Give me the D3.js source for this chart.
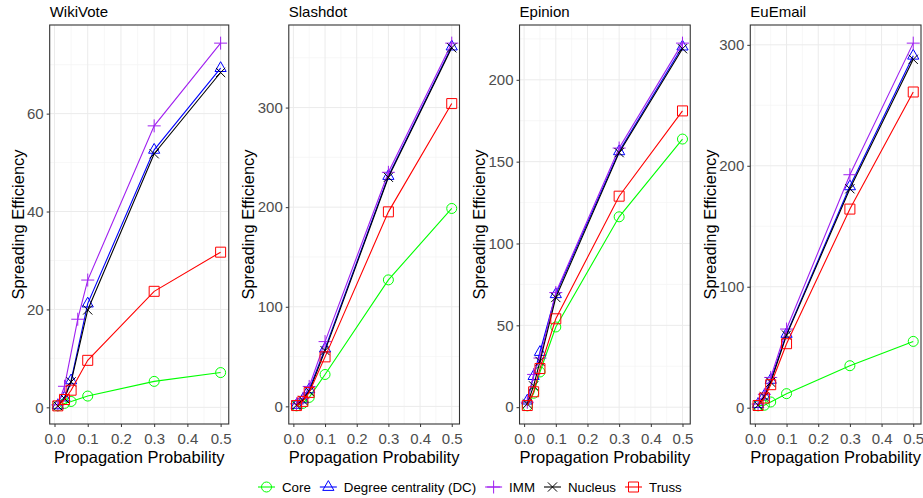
<!DOCTYPE html>
<html lang="en">
<head>
<meta charset="UTF-8">
<title>Spreading Efficiency</title>
<script src="https://d3js.org/d3.v7.min.js"></script>
<style>
    body { margin: 0; background: #fff; }
    svg { font-family: "Liberation Sans", Arial, sans-serif; display: block; }
    .grid-major { stroke: #ebebeb; stroke-width: 1; }
    .grid-minor { stroke: #f3f3f3; stroke-width: 0.7; }
    .tick-label { fill: #4d4d4d; font-size: 15px; }
</style>
</head>
<body>
<svg id="chart" width="923" height="498"></svg>
<script>
// data
const datasets = ["WikiVote", "Slashdot", "Epinion", "EuEmail"];
const methods = ["Core", "Degree centrality (DC)", "IMM", "Nucleus", "Truss"];
const colors = ["#00ff00", "#0000ff", "#a020f0", "#000000", "#ff0000"];
const shapes = ["circle", "triangle", "plus", "cross", "square"];

const probs = [0.01, 0.03, 0.05, 0.1, 0.3, 0.5];
const wikiImmProbs = [0.01, 0.03, 0.07, 0.1, 0.3, 0.5];
const xTicks = [0.0, 0.1, 0.2, 0.3, 0.4, 0.5];

const wikiCore    = [0.3, 0.8, 1.2, 2.3, 5.3, 7.1];
const wikiDC      = [0.4, 2.0, 5.5, 21.2, 52.6, 69.3];
const wikiIMM     = [0.5, 4.3, 18.0, 26.0, 57.5, 74.4];
const wikiNucleus = [0.3, 1.8, 5.2, 19.9, 51.8, 68.4];
const wikiTruss   = [0.3, 1.6, 3.5, 9.6, 23.7, 31.7];
const wikiTicks   = [0, 20, 40, 60];

const slashCore    = [0.5, 3, 9, 32, 127, 198.7];
const slashDC      = [1.5, 7, 17, 58, 231.3, 361.3];
const slashIMM     = [2.5, 8, 20, 65, 235, 364.7];
const slashNucleus = [1.2, 6, 15, 56, 230, 360];
const slashTruss   = [0.8, 5, 14, 49.7, 195.3, 304];
const slashTicks   = [0, 100, 200, 300];

const epiCore    = [0.8, 8.5, 21.5, 49, 116.3, 163.8];
const epiDC      = [4, 19, 33.7, 69, 156.3, 220.3];
const epiIMM     = [3, 20, 30, 70, 158.3, 222.4];
const epiNucleus = [2, 13, 28, 67, 155.5, 219];
const epiTruss   = [1, 9.4, 23.6, 54, 128.9, 181];
const epiTicks   = [0, 50, 100, 150, 200];

const euCore    = [1.5, 2, 4.7, 11.6, 34.7, 54.8];
const euDC      = [3, 10, 23, 61, 183, 291];
const euIMM     = [3, 11, 25, 65, 192.6, 301.4];
const euNucleus = [2, 9, 21, 60, 181, 288];
const euTruss   = [1.8, 8, 19, 52.9, 164.2, 261];
const euTicks   = [0, 100, 200, 300];

const panelValues = [
    [wikiCore, wikiDC, wikiIMM, wikiNucleus, wikiTruss],
    [slashCore, slashDC, slashIMM, slashNucleus, slashTruss],
    [epiCore, epiDC, epiIMM, epiNucleus, epiTruss],
    [euCore, euDC, euIMM, euNucleus, euTruss]
];
const panelProbs = [
    [probs, probs, wikiImmProbs, probs, probs],
    [probs, probs, probs, probs, probs],
    [probs, probs, probs, probs, probs],
    [probs, probs, probs, probs, probs]
];
const panelTicks = [wikiTicks, slashTicks, epiTicks, euTicks];

const W = 923, H = 498;
const panelW = W / 4;
const plotTop = 25, plotBottom = 424;

const svg = d3.select("#chart");

// marker paths
function markerPath(shape) {
    if (shape === "circle") return d3.symbol(d3.symbolCircle, Math.PI * 25)();
    if (shape === "triangle") return "M0,-6.4L5.6,3.4L-5.6,3.4Z";
    if (shape === "square") return "M-5,-5H5V5H-5Z";
    if (shape === "plus") return "M-6.5,0H6.5M0,-6.5V6.5";
    if (shape === "cross") return "M-4.6,-4.6L4.6,4.6M-4.6,4.6L4.6,-4.6";
}

function textWidth(str, size) {
    let t = svg.append("text").attr("font-size", size).text(str);
    let w = t.node().getComputedTextLength();
    t.remove();
    return w;
}

datasets.forEach((name, p) => {
    const start = p * panelW;
    const ticks = panelTicks[p];
    const labW = d3.max(ticks, t => textWidth(String(t), 15));
    const left = start + 33 + labW;
    const right = start + panelW - 2;

    const x = d3.scaleLinear()
        .domain([0.01 - 0.0245, 0.5 + 0.0245])
        .range([left, right]);

    const all = panelValues[p].flat();
    const lo = d3.min(all), hi = d3.max(all);
    const pad = (hi - lo) * 0.05;
    const y = d3.scaleLinear()
        .domain([lo - pad, hi + pad])
        .range([plotBottom, plotTop]);

    const g = svg.append("g");

    // minor grid
    const step = ticks[1] - ticks[0];
    const yMinor = ticks.map(t => t + step / 2).concat([ticks[0] - step / 2])
        .filter(v => v > y.domain()[0] && v < y.domain()[1]);
    const xMinor = xTicks.map(t => t + 0.05).filter(v => v < x.domain()[1]);
    g.selectAll(".ymin").data(yMinor).enter().append("line")
        .attr("class", "grid-minor")
        .attr("x1", left).attr("x2", right)
        .attr("y1", d => y(d)).attr("y2", d => y(d));
    g.selectAll(".xmin").data(xMinor).enter().append("line")
        .attr("class", "grid-minor")
        .attr("y1", plotTop).attr("y2", plotBottom)
        .attr("x1", d => x(d)).attr("x2", d => x(d));
    // major grid
    g.selectAll(".ymaj").data(ticks).enter().append("line")
        .attr("class", "grid-major")
        .attr("x1", left).attr("x2", right)
        .attr("y1", d => y(d)).attr("y2", d => y(d));
    g.selectAll(".xmaj").data(xTicks).enter().append("line")
        .attr("class", "grid-major")
        .attr("y1", plotTop).attr("y2", plotBottom)
        .attr("x1", d => x(d)).attr("x2", d => x(d));

    // axes
    const xAxis = g.append("g")
        .attr("transform", `translate(0,${plotBottom})`)
        .call(d3.axisBottom(x).tickValues(xTicks).tickFormat(d3.format(".1f")).tickSize(3).tickPadding(3));
    const yAxis = g.append("g")
        .attr("transform", `translate(${left},0)`)
        .call(d3.axisLeft(y).tickValues(ticks).tickSize(3).tickPadding(3));
    [xAxis, yAxis].forEach(a => {
        a.select(".domain").remove();
        a.selectAll(".tick line").attr("stroke", "#333");
        a.selectAll(".tick text").attr("class", "tick-label").attr("fill", "#4d4d4d")
            .attr("font-size", 15).attr("font-family", null);
    });
    xAxis.selectAll(".tick text").attr("dy", "0.95em");

    // series, drawn in legend order
    const line = d3.line().x(d => x(d[0])).y(d => y(d[1]));
    methods.forEach((m, i) => {
        const pts = panelProbs[p][i].map((pr, k) => [pr, panelValues[p][i][k]]);
        g.append("path")
            .datum(pts)
            .attr("d", line)
            .attr("fill", "none")
            .attr("stroke", colors[i])
            .attr("stroke-width", 1.1);
        g.selectAll(".m" + i).data(pts).enter().append("path")
            .attr("transform", d => `translate(${x(d[0])},${y(d[1])})`)
            .attr("d", markerPath(shapes[i]))
            .attr("fill", "none")
            .attr("stroke", colors[i])
            .attr("stroke-width", 1);
    });

    // panel border
    g.append("rect")
        .attr("x", left).attr("y", plotTop)
        .attr("width", right - left).attr("height", plotBottom - plotTop)
        .attr("fill", "none").attr("stroke", "#333").attr("stroke-width", 1.1);

    // titles
    g.append("text").attr("x", left).attr("y", 17)
        .attr("font-size", 15).attr("fill", "#000").text(name);
    g.append("text")
        .attr("x", (left + right) / 2).attr("y", 463)
        .attr("text-anchor", "middle").attr("font-size", 16.5).attr("fill", "#000")
        .text("Propagation Probability");
    g.append("text")
        .attr("transform", `translate(${start + 23.5},${(plotTop + plotBottom) / 2}) rotate(-90)`)
        .attr("text-anchor", "middle").attr("font-size", 16.5).attr("fill", "#000")
        .text("Spreading Efficiency");
});

// legend
const legend = svg.append("g").attr("transform", "translate(0,487)");
let lx = 258;
methods.forEach((m, i) => {
    const item = legend.append("g").attr("transform", `translate(${lx},0)`);
    item.append("line").attr("x1", 0).attr("x2", 17).attr("y1", 0).attr("y2", 0)
        .attr("stroke", colors[i]).attr("stroke-width", 1.1);
    item.append("path").attr("transform", "translate(8.5,0)")
        .attr("d", markerPath(shapes[i]))
        .attr("fill", "none").attr("stroke", colors[i]);
    const t = item.append("text").attr("x", 24).attr("y", 4.8)
        .attr("font-size", 13.3).attr("fill", "#000").text(m);
    lx += 24 + t.node().getComputedTextLength() + 9;
});
</script>
</body>
</html>
